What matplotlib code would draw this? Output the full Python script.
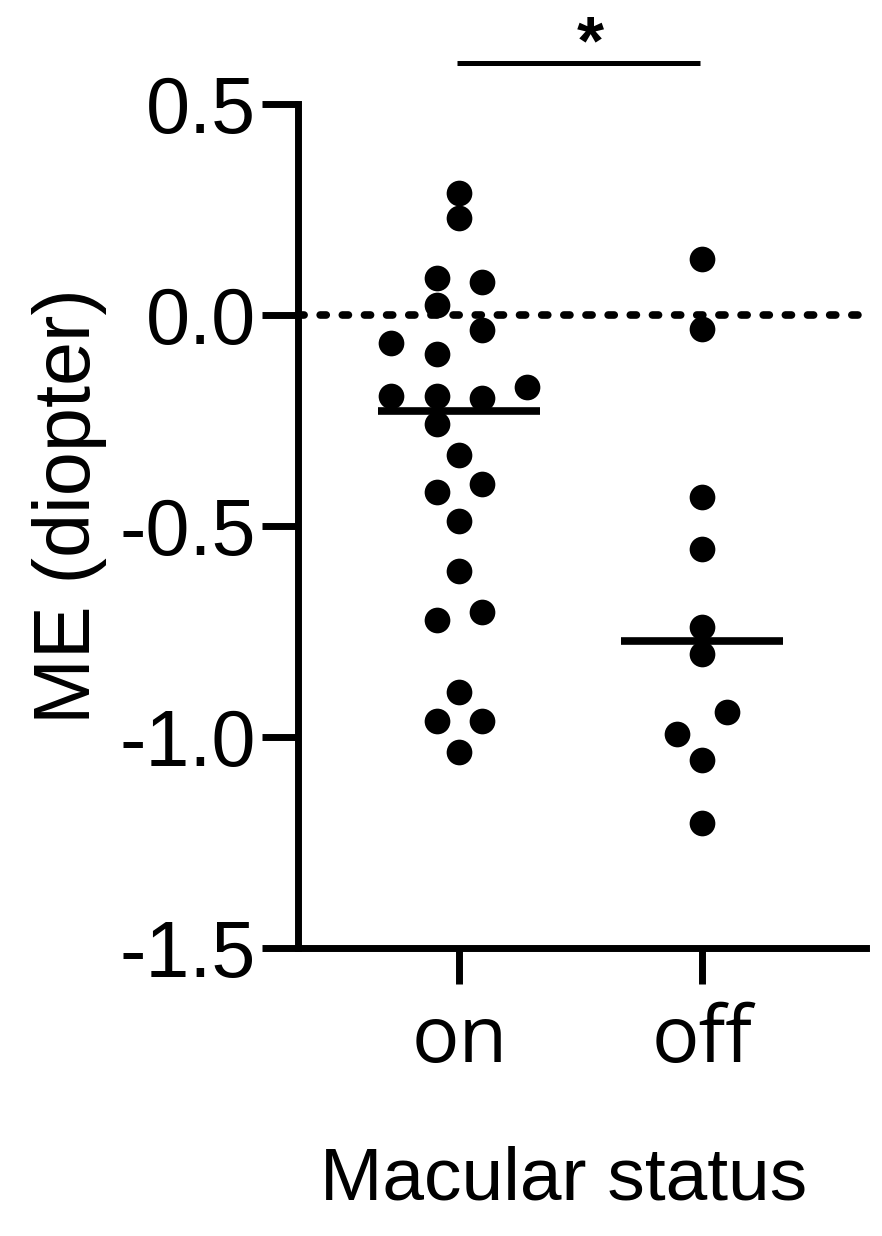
import matplotlib

matplotlib.use("Agg")
import matplotlib.pyplot as plt
import numpy as np

# ME values per macular status group (diopter)
on_values = [0.290, 0.229, 0.089, 0.079, 0.024, -0.036, -0.066, -0.092,
             -0.171, -0.192, -0.192, -0.197, -0.257, -0.332, -0.401, -0.419,
             -0.487, -0.607, -0.703, -0.723, -0.894, -0.962, -0.962, -1.035]
# swarm column of each point (in half-marker steps)
on_cols = [0, 0, -1, 1, -1, 1, -3, -1,
           3, -3, -1, 1, -1, 0, 1, -1,
           0, 0, 1, -1, 0, -1, 1, 0]

off_values = [0.132, -0.033, -0.432, -0.555, -0.740, -0.803, -0.940, -0.993,
              -1.054, -1.203]
off_cols = [0, 0, 0, 0, 0, 0, 1.1, -1.1, 0, 0]

groups = ["on", "off"]
y_ticks = [0.5, 0.0, -0.5, -1.0, -1.5]
y_tick_labels = ["0.5", "0.0", "-0.5", "-1.0", "-1.5"]

LW = 5.0
SWARM_STEP = 0.0934

fig = plt.figure(figsize=(8.82, 12.36), dpi=100)
ax = fig.add_axes([0.3379, 0.2330, 0.644, 0.6828])

ax.axhline(0, color="black", lw=5.5, linestyle=(0, (0.8, 2.1)),
           dash_capstyle="round", zorder=1)

for i, (vals, cols) in enumerate([(on_values, on_cols), (off_values, off_cols)]):
    xc = i + 1
    xs = xc + np.array(cols) * SWARM_STEP
    ax.plot(xs, vals, "o", color="black", markersize=18.5, markeredgewidth=0,
            zorder=3, clip_on=False)
    med = np.median(vals)
    ax.plot([xc - 0.333, xc + 0.333], [med, med], color="black", lw=5.5,
            solid_capstyle="butt", zorder=4)

# significance bar
ax.plot([0.99, 1.99], [0.597, 0.597], color="black", lw=3.6,
        solid_capstyle="butt", clip_on=False)
ax.text(1.54, 0.64, "*", ha="center", va="center", fontsize=50,
        fontweight="bold", family="Liberation Sans")

ax.set_xlim(0.336, 2.674)
ax.set_ylim(-1.5, 0.5)
ax.set_xticks([1, 2], groups)
ax.set_yticks(y_ticks, y_tick_labels)

for s in ["top", "right"]:
    ax.spines[s].set_visible(False)
for s in ["left", "bottom"]:
    ax.spines[s].set_linewidth(LW)
    ax.spines[s].set_capstyle("projecting")

ax.tick_params(axis="both", length=26, width=LW, color="black")
ax.tick_params(axis="y", pad=4)
ax.tick_params(axis="x", pad=13)
for lab in ax.get_yticklabels():
    lab.set_family("Liberation Sans")
    lab.set_fontsize(57)
for lab in ax.get_xticklabels():
    lab.set_family("Open Sans")
    lab.set_fontsize(57)

fig.text(70 / 882, 1 - 506 / 1236, "ME (diopter)", rotation=90, ha="center",
         va="center", fontsize=57, family="Liberation Sans")
fig.text(564 / 882, 1 - 1199 / 1236, "Macular status", ha="center",
         va="baseline", fontsize=54, family="Liberation Sans")

fig.savefig("out.png", dpi=100, facecolor="white")
